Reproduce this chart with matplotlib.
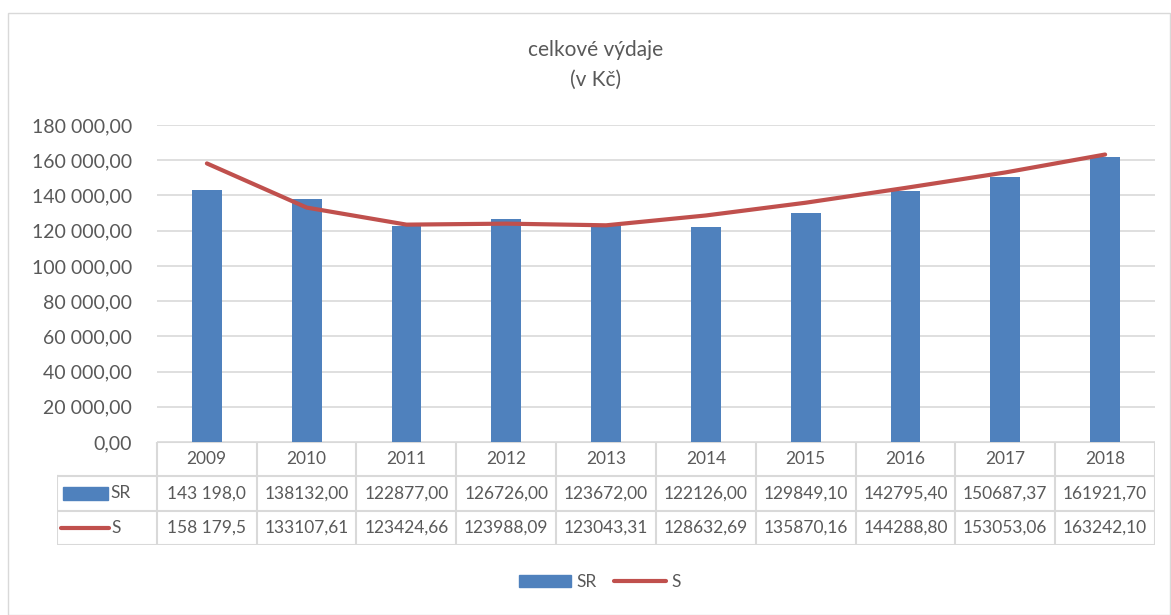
import matplotlib.pyplot as plt
from matplotlib.patches import Rectangle
from matplotlib.lines import Line2D
from matplotlib.ticker import FuncFormatter

# data
roky = ["2009", "2010", "2011", "2012", "2013", "2014", "2015", "2016", "2017", "2018"]
sr_hodnoty = [143198.0, 138132.00, 122877.00, 126726.00, 123672.00,
              122126.00, 129849.10, 142795.40, 150687.37, 161921.70]
s_hodnoty = [158179.5, 133107.61, 123424.66, 123988.09, 123043.31,
             128632.69, 135870.16, 144288.80, 153053.06, 163242.10]
sr_popisky = ["143 198,0", "138132,00", "122877,00", "126726,00", "123672,00",
              "122126,00", "129849,10", "142795,40", "150687,37", "161921,70"]
s_popisky = ["158 179,5", "133107,61", "123424,66", "123988,09", "123043,31",
             "128632,69", "135870,16", "144288,80", "153053,06", "163242,10"]

MODRA = "#4F81BD"
CERVENA = "#C0504D"
SEDA_TEXT = "#595959"
SEDA_CARA = "#D9D9D9"

plt.rcParams["font.family"] = ["Lato", "DejaVu Sans"]

W, H = 1171, 615
fig = plt.figure(figsize=(W / 100, H / 100), dpi=100)

# okraj grafu
fig.patches.append(Rectangle((8 / W, 0), (W - 9) / W, 1 - 13 / H, transform=fig.transFigure,
                             fill=False, edgecolor=SEDA_CARA, linewidth=1))

fig.text(596 / W, 1 - 50 / H, "celkové výdaje", ha="center", va="center",
         fontsize=15, color=SEDA_TEXT)
fig.text(596 / W, 1 - 80 / H, "(v Kč)", ha="center", va="center",
         fontsize=15, color=SEDA_TEXT)

# graf
ax = fig.add_axes([157 / W, 1 - 442 / H, (1155 - 157) / W, (442 - 125) / H])
x = list(range(len(roky)))
ax.bar(x, sr_hodnoty, width=0.3, color=MODRA, zorder=2)
ax.plot(x, s_hodnoty, color=CERVENA, linewidth=3, solid_capstyle="round", zorder=3)
ax.set_xlim(-0.5, len(roky) - 0.5)
ax.set_ylim(0, 180000)
ax.set_yticks(range(0, 180001, 20000))
ax.yaxis.set_major_formatter(FuncFormatter(
    lambda v, p: "{:,.2f}".format(v).replace(",", " ").replace(".", ",")))
ax.tick_params(axis="y", length=0, labelsize=14, labelcolor=SEDA_TEXT, pad=18)
ax.set_xticks([])
ax.grid(axis="y", color=SEDA_CARA, linewidth=1.2, zorder=0)
for s in ax.spines.values():
    s.set_visible(False)

# datova tabulka
at = fig.add_axes([57 / W, 1 - 545 / H, (1155 - 57) / W, (545 - 442) / H])
at.set_xlim(-1.5, len(roky) - 0.5)
at.set_ylim(3, 0)
at.axis("off")
n = len(roky)
at.plot([-0.5, n - 0.5], [0, 0], color=SEDA_CARA, lw=1.5)
for r in (1, 2, 3):
    at.plot([-1.5, n - 0.5], [r, r], color=SEDA_CARA, lw=1.5)
at.plot([-1.5, -1.5], [1, 3], color=SEDA_CARA, lw=1.5)
for i in range(n + 1):
    at.plot([i - 0.5, i - 0.5], [0, 3], color=SEDA_CARA, lw=1.5)
for i in range(n):
    at.text(i, 0.5, roky[i], ha="center", va="center", fontsize=12.5, color=SEDA_TEXT)
    at.text(i, 1.5, sr_popisky[i], ha="center", va="center", fontsize=12.5, color=SEDA_TEXT)
    at.text(i, 2.5, s_popisky[i], ha="center", va="center", fontsize=12.5, color=SEDA_TEXT)
at.add_patch(Rectangle((-1.44, 1.32), 0.45, 0.36, color=MODRA))
at.text(-0.76, 1.5, "SR", ha="right", va="center", fontsize=12.5, color=SEDA_TEXT)
at.plot([-1.46, -0.98], [2.5, 2.5], color=CERVENA, lw=3, solid_capstyle="round")
at.text(-0.86, 2.5, "S", ha="right", va="center", fontsize=12.5, color=SEDA_TEXT)

# legenda
handles = [Rectangle((0, 0), 1, 1, color=MODRA),
           Line2D([0], [0], color=CERVENA, lw=3, solid_capstyle="round")]
fig.legend(handles, ["SR", "S"], loc="center", bbox_to_anchor=(600 / W, 1 - 582 / H),
           ncol=2, frameon=False, fontsize=12.5, labelcolor=SEDA_TEXT,
           handlelength=3.0, handletextpad=0.3, columnspacing=1.0)

fig.savefig("out.png", dpi=100)
